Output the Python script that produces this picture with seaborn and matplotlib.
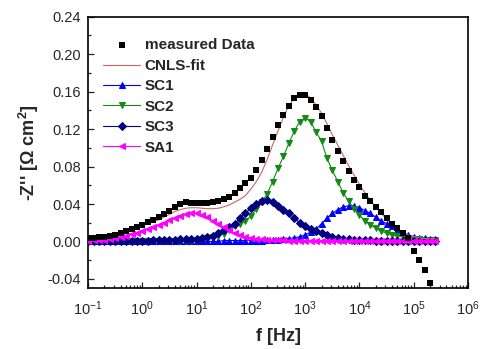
import matplotlib
matplotlib.use("Agg")
import matplotlib.pyplot as plt
import matplotlib.ticker as mticker
import seaborn as sns

# frequencies (Hz), 10 points per decade
freq = [0.1, 0.126, 0.158, 0.2, 0.251, 0.316, 0.398, 0.501, 0.631, 0.794,
        1.0, 1.26, 1.58, 2.0, 2.51, 3.16, 3.98, 5.01, 6.31, 7.94,
        10.0, 12.6, 15.8, 20.0, 25.1, 31.6, 39.8, 50.1, 63.1, 79.4,
        100, 126, 158, 200, 251, 316, 398, 501, 631, 794,
        1000, 1260, 1580, 2000, 2510, 3160, 3980, 5010, 6310, 7940,
        1e4, 12600, 15800, 20000, 25100, 31600, 39800, 50100, 63100, 79400,
        1e5, 126000, 158000, 200000, 251000]

measured = [0.004, 0.004, 0.0045, 0.005, 0.006, 0.007, 0.009, 0.011, 0.013, 0.015,
            0.018, 0.021, 0.023, 0.026, 0.029, 0.033, 0.037, 0.040, 0.042, 0.041,
            0.041, 0.041, 0.041, 0.042, 0.043, 0.045, 0.048, 0.052, 0.057, 0.062,
            0.068, 0.076, 0.087, 0.099, 0.112, 0.124, 0.135, 0.145, 0.153, 0.156,
            0.156, 0.151, 0.144, 0.134, 0.121, 0.108, 0.097, 0.086, 0.075, 0.066,
            0.058, 0.049, 0.043, 0.037, 0.031, 0.025, 0.019, 0.014, 0.009, 0.004,
            -0.010, -0.020, -0.031, -0.044]

cnls_fit = [0.004, 0.004, 0.0045, 0.005, 0.006, 0.007, 0.009, 0.011, 0.013, 0.015,
            0.017, 0.019, 0.021, 0.023, 0.026, 0.029, 0.032, 0.034, 0.0355, 0.036,
            0.036, 0.0355, 0.035, 0.035, 0.0355, 0.037, 0.039, 0.042, 0.045, 0.049,
            0.056, 0.064, 0.074, 0.088, 0.103, 0.118, 0.133, 0.145, 0.153, 0.158,
            0.158, 0.153, 0.146, 0.137, 0.126, 0.114, 0.103, 0.092, 0.081, 0.071,
            0.061, 0.052, 0.044, 0.037, 0.030, 0.024, 0.018, 0.014, 0.010, 0.007,
            0.005, 0.004, 0.003, 0.003, 0.003]

sc1 = [0.0, 0.0, 0.0, 0.0, 0.0, 0.0, 0.0, 0.0, 0.0, 0.0,
       0.0, 0.0, 0.0, 0.0, 0.0, 0.0, 0.0, 0.0, 0.0, 0.0,
       0.0, 0.0, 0.0, 0.0, 0.0, 0.001, 0.001, 0.001, 0.001, 0.001,
       0.001, 0.001, 0.001, 0.002, 0.002, 0.002, 0.003, 0.003, 0.004, 0.005,
       0.007, 0.010, 0.013, 0.019, 0.025, 0.030, 0.034, 0.037, 0.038, 0.038,
       0.036, 0.033, 0.030, 0.026, 0.022, 0.019, 0.016, 0.012, 0.009, 0.007,
       0.005, 0.004, 0.004, 0.003, 0.003]

sc2 = [0.0, 0.0, 0.0, 0.0, 0.0, 0.0, 0.0, 0.0, 0.0, 0.0,
       0.0, 0.0, 0.0, 0.0, 0.0, 0.001, 0.001, 0.001, 0.001, 0.001,
       0.002, 0.003, 0.004, 0.005, 0.006, 0.008, 0.012, 0.016, 0.019, 0.022,
       0.027, 0.035, 0.042, 0.051, 0.064, 0.078, 0.091, 0.105, 0.118, 0.128,
       0.132, 0.128, 0.117, 0.107, 0.089, 0.076, 0.064, 0.052, 0.043, 0.035,
       0.028, 0.022, 0.018, 0.014, 0.011, 0.009, 0.007, 0.006, 0.005, 0.004,
       0.003, 0.003, 0.002, 0.002, 0.002]

sc3 = [0.001, 0.001, 0.001, 0.001, 0.001, 0.001, 0.001, 0.001, 0.001, 0.001,
       0.001, 0.001, 0.0015, 0.0015, 0.002, 0.002, 0.002, 0.0025, 0.003, 0.003,
       0.003, 0.004, 0.005, 0.006, 0.009, 0.012, 0.015, 0.019, 0.025, 0.030,
       0.036, 0.040, 0.043, 0.044, 0.042, 0.038, 0.034, 0.030, 0.025, 0.020,
       0.016, 0.013, 0.011, 0.009, 0.007, 0.005, 0.004, 0.003, 0.003, 0.002,
       0.002, 0.002, 0.002, 0.001, 0.001, 0.001, 0.001, 0.001, 0.001, 0.001,
       0.001, 0.001, 0.001, 0.001, 0.001]

sa1 = [0.001, 0.0012, 0.0015, 0.002, 0.003, 0.004, 0.005, 0.006, 0.008, 0.009,
       0.011, 0.013, 0.015, 0.018, 0.020, 0.023, 0.025, 0.027, 0.029, 0.030,
       0.030, 0.028, 0.026, 0.022, 0.019, 0.015, 0.012, 0.009, 0.007, 0.005,
       0.004, 0.003, 0.0025, 0.002, 0.002, 0.0015, 0.0015, 0.001, 0.001, 0.001,
       0.001, 0.001, 0.001, 0.001, 0.001, 0.001, 0.0005, 0.0005, 0.0005, 0.0005,
       0.0005, 0.0005, 0.0005, 0.0005, 0.0005, 0.0005, 0.0005, 0.0005, 0.0005, 0.0005,
       0.0005, 0.0005, 0.0005, 0.0005, 0.0005]

sns.set_style("ticks")
plt.rcParams["font.family"] = ["Liberation Sans", "DejaVu Sans"]
plt.rcParams["axes.unicode_minus"] = False
plt.rcParams["mathtext.fontset"] = "custom"
plt.rcParams["mathtext.rm"] = "Liberation Sans"
plt.rcParams["mathtext.bf"] = "Liberation Sans:bold"

fig, ax = plt.subplots(figsize=(4.84, 3.49), dpi=100)
fig.subplots_adjust(left=0.182, right=0.967, top=0.952, bottom=0.174)
ax.set_xscale("log")

sns.lineplot(x=freq, y=cnls_fit, color="#c86464", linewidth=0.8, ax=ax,
             label="CNLS-fit", zorder=5)
sns.lineplot(x=freq, y=sc1, color="#0000ff", linewidth=0.8, marker="^",
             markersize=4.8, markeredgecolor="#0000ff", ax=ax, label="SC1", zorder=3)
sns.lineplot(x=freq, y=sc2, color="#138a13", linewidth=0.8, marker="v",
             markersize=4.8, markeredgecolor="#138a13", ax=ax, label="SC2", zorder=3)
sns.lineplot(x=freq, y=sc3, color="#000080", linewidth=0.8, marker="D",
             markersize=3.6, markeredgecolor="#000080", ax=ax, label="SC3", zorder=3)
sns.lineplot(x=freq, y=sa1, color="#ff00ff", linewidth=0.8, marker="<",
             markersize=4.8, markeredgecolor="#ff00ff", ax=ax, label="SA1", zorder=4)
sns.scatterplot(x=freq[:len(measured)], y=measured, color="black", marker="s",
                s=15, linewidth=0, ax=ax, label="measured Data", zorder=6)

ax.set_xlim(0.1, 1e6)
ax.set_ylim(-0.05, 0.24)
ax.xaxis.set_major_locator(mticker.LogLocator(base=10, numticks=10))
ax.xaxis.set_minor_locator(mticker.LogLocator(base=10, subs=range(2, 10), numticks=20))
ax.xaxis.set_minor_formatter(mticker.NullFormatter())
ax.yaxis.set_major_locator(mticker.FixedLocator([-0.04, 0.0, 0.04, 0.08, 0.12, 0.16, 0.20, 0.24]))
ax.yaxis.set_minor_locator(mticker.MultipleLocator(0.02))
ax.yaxis.set_major_formatter(mticker.FormatStrFormatter("%.2f"))

ax.tick_params(which="both", direction="in", top=False, right=False, labelsize=10.5, width=0.9)
ax.tick_params(which="major", length=4.5, pad=5)
ax.tick_params(which="minor", length=2.5)
ax.tick_params(axis="x", which="major", pad=8)
for sp in ax.spines.values():
    sp.set_linewidth(1.2)
    sp.set_color("black")

ax.set_xlabel("f [Hz]", fontsize=13, fontweight="bold", labelpad=7)
ax.set_ylabel("-Z'' [\u03a9 cm$^{\\mathbf{2}}$]", fontsize=13, fontweight="bold", labelpad=5)

handles, labels = ax.get_legend_handles_labels()
order = [labels.index(n) for n in ["measured Data", "CNLS-fit", "SC1", "SC2", "SC3", "SA1"]]
ax.legend([handles[i] for i in order], [labels[i] for i in order],
          loc="upper left", bbox_to_anchor=(0.04, 0.92), frameon=False,
          prop={"weight": "bold", "size": 11}, handlelength=2.4, handletextpad=0.3,
          labelspacing=0.42, borderpad=0, borderaxespad=0)

fig.savefig("out.png", dpi=100)
